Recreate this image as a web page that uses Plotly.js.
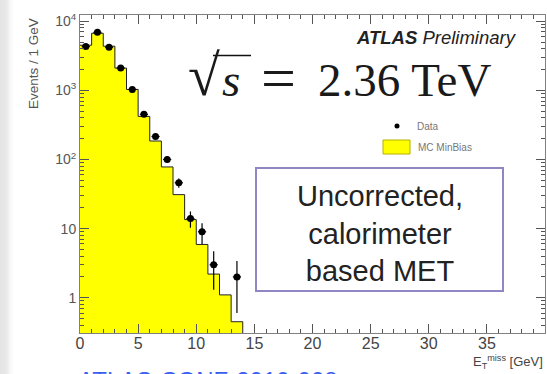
<!DOCTYPE html>
<html>
<head>
<meta charset="utf-8">
<script src="https://cdn.plot.ly/plotly-3.0.1.min.js"></script>
<style>
html,body{margin:0;padding:0;}
body{width:547px;height:374px;overflow:hidden;
background:linear-gradient(to right,#e4e4e4 0px,#e8e8e8 6px,#f6f6f6 10px,#ffffff 14px);}
#chart{width:547px;height:374px;}
</style>
</head>
<body>
<div id="chart"></div>
<script>
// ---- data ----
const binEdges   = [0,1,2,3,4,5,6,7,8,9,10,11,12,13,14];
const binCenters = [0.5,1.5,2.5,3.5,4.5,5.5,6.5,7.5,8.5,9.5,10.5,11.5,12.5,13.5];
const mcMinBias  = [4500,6700,4350,2100,1030,420,185,78,31,13.5,5.9,2.2,1.1,0.45];

const dataX   = [0.5,1.5,2.5,3.5,4.5,5.5,6.5,7.5,8.5,9.5,10.5,11.5,13.5];
const dataY   = [4300,6900,4200,2100,1030,450,215,100,46,14,9,3,2];
const dataErr = [66,83,65,46,32,21,15,10,7,3.7,3,1.7,1.4];

const xTickVals = [0,5,10,15,20,25,30,35,40];
const yTickVals = [1,10,100,1000,10000];
const yTickText = ['1','10','10<sup>2</sup>','10<sup>3</sup>','10<sup>4</sup>'];

// ---- layout helpers (pixel -> paper) ----
const L=80, R=2, T=15, B=41, W=547, H=374;
const pw=W-L-R, ph=H-T-B;
const px = x => (x-L)/pw;
const py = y => (H-B-y)/ph;
const yMin=-0.51, yMax=4.09;

// step outline built from the MC arrays
const stepX = binEdges.slice();
const stepY = mcMinBias.concat([mcMinBias[mcMinBias.length-1]]);
stepX.push(binEdges[binEdges.length-1]); stepY.push(Math.pow(10,yMin));

const traces = [
  {type:'bar', x:binCenters, y:mcMinBias, width:1,
   marker:{color:'#ffff00', line:{width:0}}, showlegend:false, hoverinfo:'skip'},
  {type:'scatter', mode:'lines', x:stepX, y:stepY, line:{shape:'hv', color:'#222', width:1},
   showlegend:false, hoverinfo:'skip'},
  {type:'scatter', mode:'markers', x:dataX, y:dataY,
   marker:{color:'#000', size:7},
   error_y:{type:'data', array:dataErr, visible:true, color:'#000', thickness:1.2, width:0},
   error_x:{type:'constant', value:0.35, visible:true, color:'#000', thickness:1.2, width:0},
   showlegend:false}
];

const axCommon = {showline:true, linecolor:'#808080', linewidth:1, mirror:'ticks',
  ticks:'inside', tickcolor:'#555', showgrid:false, zeroline:false};

const serif = 'Liberation Serif, Times New Roman, serif';

const layout = {
  width:W, height:H, margin:{l:L,r:R,t:T,b:B,pad:0},
  paper_bgcolor:'rgba(0,0,0,0)', plot_bgcolor:'#ffffff',
  bargap:0, showlegend:false,
  font:{family:'Liberation Sans, Arial, sans-serif', color:'#444'},
  xaxis:Object.assign({}, axCommon, {range:[0,40], tickvals:xTickVals, ticklen:9,
    tickfont:{size:16, color:'#444'}, ticklabelstandoff:-4,
    minor:{dtick:1, ticks:'inside', ticklen:4, tickcolor:'#555', showgrid:false}}),
  yaxis:Object.assign({}, axCommon, {type:'log', range:[yMin,yMax], tickvals:yTickVals,
    ticktext:yTickText, ticklen:9, tickfont:{size:14, color:'#555'},
    minor:{dtick:'D1', ticks:'inside', ticklen:4, tickcolor:'#555', showgrid:false}}),
  shapes:[
    {type:'rect', xref:'paper', yref:'paper', x0:px(256), x1:px(503), y0:py(168), y1:py(291),
     line:{color:'#8f87c4', width:2}, fillcolor:'#ffffff', layer:'above'},
    {type:'circle', xref:'paper', yref:'paper', x0:px(394.5), x1:px(399.5), y0:py(123.5), y1:py(128.5),
     fillcolor:'#000', line:{width:0}},
    {type:'rect', xref:'paper', yref:'paper', x0:px(383), x1:px(410), y0:py(140), y1:py(154),
     fillcolor:'#ffff00', line:{color:'#b8b000', width:1}},
    {type:'line', xref:'paper', yref:'paper', x0:px(213), x1:px(251), y0:py(55.5), y1:py(55.5),
     line:{color:'#111', width:1.6}}
  ],
  annotations:[
    {xref:'paper', yref:'paper', x:px(519), y:py(37), xanchor:'right', yanchor:'middle', showarrow:false,
     text:'<b><i>ATLAS</i></b> <i>Preliminary</i>', font:{size:18.5, color:'#222', family:'Liberation Sans, Arial'}},
    {xref:'paper', yref:'paper', x:px(493), y:py(80), xanchor:'right', yanchor:'middle', showarrow:false,
     text:'2.36 TeV', font:{size:47, color:'#1a1a1a', family:serif}},
    {xref:'paper', yref:'paper', x:px(278), y:py(78), xanchor:'center', yanchor:'middle', showarrow:false,
     text:'=', font:{size:62, color:'#1a1a1a', family:serif}},
    {xref:'paper', yref:'paper', x:px(231), y:py(80), xanchor:'center', yanchor:'middle', showarrow:false,
     text:'<i>s</i>', font:{size:47, color:'#1a1a1a', family:serif}},
    {xref:'paper', yref:'paper', x:px(204), y:py(76), xanchor:'center', yanchor:'middle', showarrow:false,
     text:'√', font:{size:58, color:'#1a1a1a', family:serif}},
    {xref:'paper', yref:'paper', x:px(415), y:py(126), xanchor:'left', yanchor:'middle', showarrow:false,
     text:'Data', font:{size:10, color:'#777'}},
    {xref:'paper', yref:'paper', x:px(416), y:py(147), xanchor:'left', yanchor:'middle', showarrow:false,
     text:'MC MinBias', font:{size:10, color:'#777'}},
    {xref:'paper', yref:'paper', x:px(380), y:py(233), xanchor:'center', yanchor:'middle', showarrow:false,
     text:'Uncorrected,<br>calorimeter<br>based MET', font:{size:29, color:'#222', family:'Liberation Sans, Arial'}},
    {xref:'paper', yref:'paper', x:px(34), y:py(64), xanchor:'center', yanchor:'middle', showarrow:false,
     textangle:-90, text:'Events / 1 GeV', font:{size:13.5, color:'#555'}},
    {xref:'paper', yref:'paper', x:px(545), y:py(362), xanchor:'right', yanchor:'middle', showarrow:false,
     text:'E<sub>T</sub><sup>miss</sup> [GeV]', font:{size:13, color:'#444'}},
    {xref:'paper', yref:'paper', x:px(76), y:py(365), xanchor:'left', yanchor:'top', showarrow:false,
     text:'ATLAS-CONF-2010-008', font:{size:24, color:'#3a60f0', family:'Liberation Sans, Arial'}}
  ]
};

Plotly.newPlot('chart', traces, layout, {staticPlot:true, displayModeBar:false});
</script>
</body>
</html>
